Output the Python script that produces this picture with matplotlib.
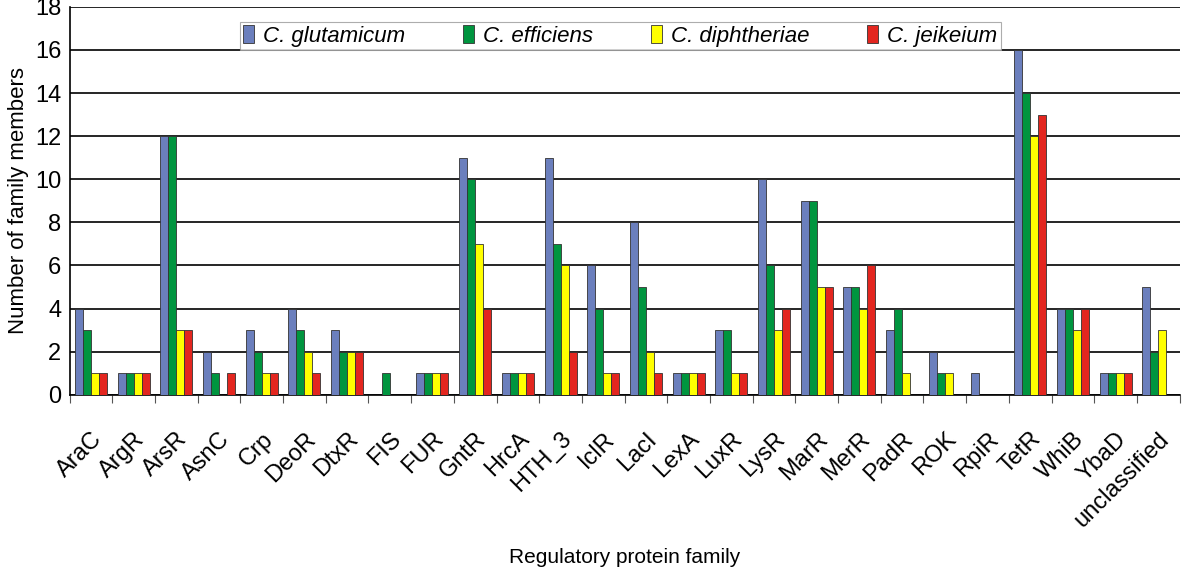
import matplotlib.pyplot as plt
import numpy as np

plt.rcParams['font.family'] = ['Liberation Sans', 'DejaVu Sans']

# familias de reguladores
families = ['AraC', 'ArgR', 'ArsR', 'AsnC', 'Crp', 'DeoR', 'DtxR', 'FIS', 'FUR',
            'GntR', 'HrcA', 'HTH_3', 'IclR', 'LacI', 'LexA', 'LuxR', 'LysR',
            'MarR', 'MerR', 'PadR', 'ROK', 'RpiR', 'TetR', 'WhiB', 'YbaD',
            'unclassified']

glutamicum = [4, 1, 12, 2, 3, 4, 3, 0, 1, 11, 1, 11, 6, 8, 1, 3, 10, 9, 5, 3, 2, 1, 16, 4, 1, 5]
efficiens = [3, 1, 12, 1, 2, 3, 2, 1, 1, 10, 1, 7, 4, 5, 1, 3, 6, 9, 5, 4, 1, 0, 14, 4, 1, 2]
diphtheriae = [1, 1, 3, 0, 1, 2, 2, 0, 1, 7, 1, 6, 1, 2, 1, 1, 3, 5, 4, 1, 1, 0, 12, 3, 1, 3]
jeikeium = [1, 1, 3, 1, 1, 1, 2, 0, 1, 4, 1, 2, 1, 1, 1, 1, 4, 5, 6, 0, 0, 0, 13, 4, 1, 0]

species = ['C. glutamicum', 'C. efficiens', 'C. diphtheriae', 'C. jeikeium']
colors = ['#6b7fbd', '#00953f', '#ffff00', '#e3261f']

fig = plt.figure(figsize=(12, 5.73), dpi=100)
ax = fig.add_axes([0.058, 0.311, 0.925, 0.677])

x = np.arange(len(families))
w = 0.1875
series = [glutamicum, efficiens, diphtheriae, jeikeium]
for i, vals in enumerate(series):
    vals = np.array(vals)
    # las barras en cero no se dibujan
    lw = np.where(vals > 0, 0.6, 0)
    ax.bar(x + (i - 1.5) * w, vals, width=w, color=colors[i],
           edgecolor='#333333', linewidth=lw, label=species[i], zorder=3)

ax.set_xlim(-0.5, len(families) - 0.5)
ax.set_ylim(0, 18)
ax.set_yticks(range(0, 19, 2))
ax.yaxis.grid(True, color='black', linewidth=1.2, zorder=0)
ax.tick_params(axis='y', length=0, labelsize=17, pad=6)

# ticks entre categorias, etiquetas centradas
ax.set_xticks(np.arange(-0.5, len(families), 1))
ax.set_xticklabels([])
ax.set_xticks(x, minor=True)
ax.set_xticklabels(families, minor=True, rotation=45, ha='right',
                   rotation_mode='anchor', fontsize=17)
ax.tick_params(axis='x', which='major', length=6, color='#555555')
ax.tick_params(axis='x', which='minor', length=0, pad=24)

for s in ['top', 'right']:
    ax.spines[s].set_visible(False)
ax.spines['left'].set_linewidth(1.2)
ax.spines['bottom'].set_linewidth(1.2)

ax.set_ylabel('Number of family members', fontsize=16, labelpad=4)
ax.set_xlabel('Regulatory protein family', fontsize=15, labelpad=12)

leg = ax.legend(loc='upper center', bbox_to_anchor=(0.496, 0.962), ncol=4,
                frameon=True, fancybox=False, prop={'style': 'italic', 'size': 16},
                handlelength=0.5, handleheight=0.9, handletextpad=0.4,
                columnspacing=2.6, borderpad=0.15, borderaxespad=0)
leg.get_frame().set_edgecolor('#999999')
leg.get_frame().set_linewidth(0.8)
leg.set_zorder(5)

plt.savefig('out.png', dpi=100)
